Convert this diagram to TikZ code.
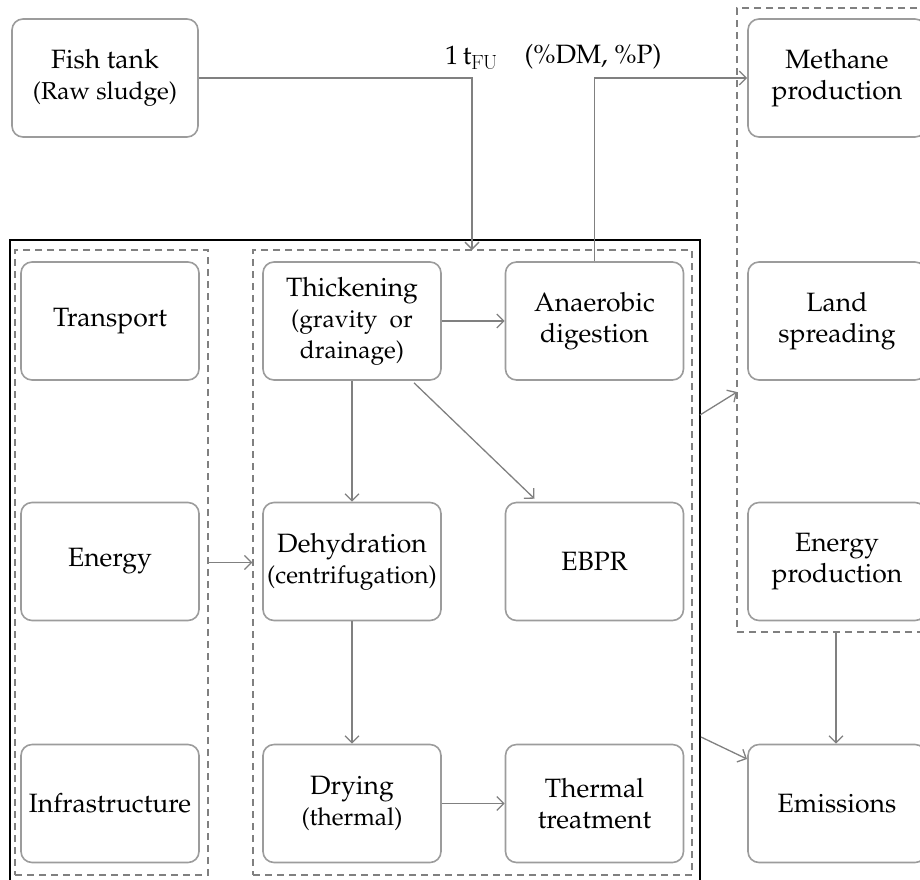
\documentclass[tikz,border=0pt]{standalone}
\usepackage[T1]{fontenc}
\usepackage{mathpazo}
\usetikzlibrary{arrows.meta,calc}
\definecolor{boxgray}{HTML}{9C9C9C}
\definecolor{linegray}{HTML}{808080}
\newcommand\mainsize{\fontsize{26.5}{31}\selectfont}
\newcommand\subsize{\fontsize{24.5}{31}\selectfont}
\tikzset{
  proc/.style={draw=boxgray, line width=1.6pt, rounded corners=11pt,
    minimum width=178pt, minimum height=118pt, align=center,
    font=\mainsize, inner sep=0pt, fill=white},
  grp/.style={draw=linegray, dash pattern=on 7pt off 5pt, line width=1.2pt,
    inner sep=0pt},
  flow/.style={draw=linegray, line width=1.3pt,
    -{Straight Barb[length=7pt,width=14pt,line width=1.3pt]}},
  lbl/.style={font=\mainsize, inner sep=0pt},
}
\begin{document}
\begin{tikzpicture}[x=1pt, y=-1pt]
\useasboundingbox (0,0) rectangle (920,879);
\clip (0,0) rectangle (920,879);

% grouping frames
\node[draw=black, line width=1.3pt, minimum width=690pt, minimum height=655pt, inner sep=0pt] (system) at (355,567.5) {};
\node[grp, minimum width=193pt, minimum height=625pt] (leftgrp) at (111.5,562.5) {};
\node[grp, minimum width=439pt, minimum height=625pt] (midgrp) at (472.5,562.5) {};
\node[grp, minimum width=198pt, minimum height=624pt] (rightgrp) at (836,320) {};

% process boxes
\node[proc, minimum width=186pt] (fish) at (105,78) {Fish tank\\{\subsize(Raw sludge)}};
\node[proc] (methane) at (837,78) {Methane\\production};
\node[proc] (land) at (837,321) {Land\\spreading};
\node[proc] (eprod) at (837,561.5) {Energy\\production};
\node[proc] (emis) at (837,803.5) {Emissions};

\node[proc] (transport) at (110,321) {Transport};
\node[proc] (energy) at (110,561.5) {Energy};
\node[proc] (infra) at (110,803.5) {Infrastructure};

\node[proc] (thick) at (352,321) {Thickening\\{\subsize(gravity\ \ or}\\{\subsize drainage)}};
\node[proc] (anaer) at (594.5,321) {Anaerobic\\digestion};
\node[proc] (dehyd) at (352,561.5) {Dehydration\\{\subsize(centrifugation)}};
\node[proc] (ebpr) at (594.5,561.5) {EBPR};
\node[proc] (drying) at (352,803.5) {Drying\\{\subsize(thermal)}};
\node[proc] (thermal) at (594.5,803.5) {Thermal\\treatment};

% flow labels
\node[lbl] (fu) at (472,58) {1\,t\textsubscript{\textsf{FU}}};
\node[lbl] (dmp) at (593,57) {(\%DM, \%P)};

% connectors
\coordinate (inT) at (472,250);
\draw[flow] (fish.east) -| (inT);
\draw[flow] (anaer.north) |- (methane.west);
\draw[flow] (thick.east) -- (anaer.west);
\draw[flow] (thick.south) -- (dehyd.north);
\draw[flow] ($(thick.south)+(62,2)$) -- ($(ebpr.north)+(-60,-3)$);
\draw[flow] (dehyd.south) -- (drying.north);
\draw[flow] (drying.east) -- (thermal.west);
\draw[flow] (leftgrp.east) -- (midgrp.west);

\coordinate (outA) at (700,415);
\coordinate (inA) at (737,392);
\draw[flow] (outA) -- (inA);
\coordinate (outB) at (701,737);
\coordinate (inB) at (747,759);
\draw[flow] (outB) -- (inB);
\draw[flow] (rightgrp.south) -- (rightgrp.south |- emis.north);
\end{tikzpicture}
\end{document}
